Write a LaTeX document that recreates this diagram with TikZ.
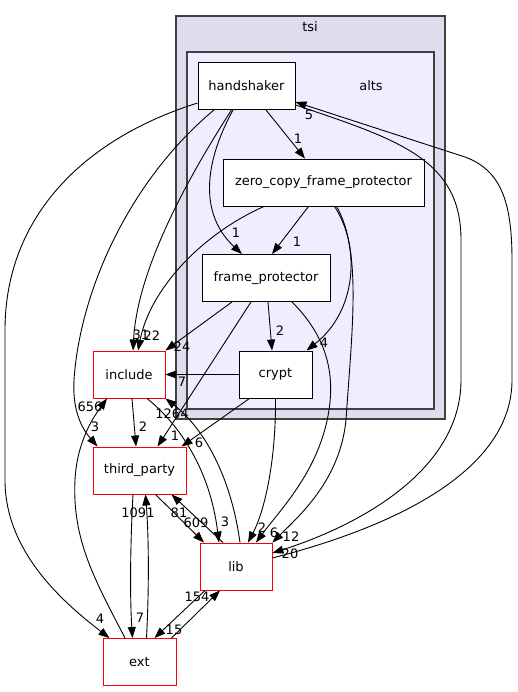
\documentclass[tikz,border=0pt]{standalone}
\usepackage{fontspec}
\setmainfont{DejaVu Sans}
\usepackage{tikz}
\usetikzlibrary{arrows.meta, positioning}
\usepackage{xcolor}
\definecolor{tsifill}{HTML}{DDDDEE}
\definecolor{altsfill}{HTML}{EEEEFF}
\definecolor{clusterline}{HTML}{404040}
\tikzset{%
	every dir/.style={
		rectangle,
		draw=black,
		fill=white,
		line width=0.9pt,
		minimum height=47pt,
		inner sep=0pt,
		font=\fontsize{13}{15}\selectfont
	},
	outer dir/.style={
		every dir,
		draw=red
	},
	dep/.style={
		-{Triangle[length=11pt,width=8pt]},
		line width=0.9pt
	},
	count/.style={
		inner sep=0pt,
		font=\fontsize{13}{15}\selectfont
	},
}

\begin{document}
\begin{tikzpicture}[x=1pt,y=-1pt]
			\useasboundingbox (0,0) rectangle (517,692);
			
			% Draw the two clusters
			\draw[fill=tsifill, draw=clusterline, line width=1.5pt] (176,16) rectangle (445,419);
			\node[count] (tsilabel) at (310,27) {tsi};
			\draw[fill=altsfill, draw=clusterline, line width=1.2pt] (187,52) rectangle (434,409);
			\node[count] (altslabel) at (371,86) {alts};
			
			% Draw the directories inside alts
			\node[every dir, minimum width=97pt] (handshaker) at (246.5,86) {handshaker};
			\node[every dir, minimum width=201pt] (zcfp) at (323.5,182.5) {zero\_copy\_frame\_protector};
			\node[every dir, minimum width=128pt] (fp) at (266,278) {frame\_protector};
			\node[every dir, minimum width=73pt] (crypt) at (275.5,374.5) {crypt};
			
			% Draw the directories outside
			\node[outer dir, minimum width=72pt] (include) at (129,374.5) {include};
			\node[outer dir, minimum width=93pt] (third_party) at (139.5,470.5) {third\_party};
			\node[outer dir, minimum width=72pt] (lib) at (236,566.5) {lib};
			\node[outer dir, minimum width=73pt] (ext) at (139.5,662) {ext};
			
			% Draw the arrows from handshaker
			\draw[dep] ([xshift=19.5pt]handshaker.south) -- ([xshift=-18.5pt]zcfp.north);
			\draw[dep] ([xshift=-13.5pt]handshaker.south) .. controls (203,165) and (200,215) .. ([xshift=-24pt]fp.north);
			\draw[dep] ([xshift=-15pt]handshaker.south) .. controls (180,190) and (137,275) .. ([xshift=4pt]include.north);
			\draw[dep] ([xshift=-32.5pt]handshaker.south) .. controls (130,180) and (80,290) .. (74,380) .. controls (72,415) and (85,432) .. ([xshift=-42pt]third_party.north);
			\draw[dep] ([yshift=-17pt]handshaker.west) .. controls (80,140) and (5,220) .. (5,330) -- (5,480) .. controls (5,550) and (60,600) .. ([xshift=-30pt]ext.north);
			\draw[dep] ([yshift=-19pt]handshaker.east) .. controls (400,140) and (461,160) .. (461,240) -- (461,380) .. controls (461,470) and (360,525) .. ([yshift=13.5pt]lib.east);
			
			% Draw the arrows from zero_copy_frame_protector
			\draw[dep] ([xshift=-59.5pt]zcfp.south) .. controls (200,235) and (150,290) .. ([xshift=9pt]include.north);
			\draw[dep] ([xshift=-15pt]zcfp.south) -- ([xshift=6pt]fp.north);
			\draw[dep] ([xshift=11pt]zcfp.south) .. controls (360,245) and (358,310) .. ([xshift=31pt]crypt.north);
			\draw[dep] ([xshift=13pt]zcfp.south) .. controls (362,250) and (352,330) .. (346,420) .. controls (340,480) and (300,515) .. (lib.north east);
			
			% Draw the arrows from frame_protector
			\draw[dep] ([xshift=-34pt]fp.south) -- (include.north east);
			\draw[dep] ([xshift=2pt]fp.south) -- ([xshift=-3.5pt]crypt.north);
			\draw[dep] ([xshift=-15pt]fp.south) -- ([xshift=18pt]third_party.north);
			\draw[dep] ([xshift=26pt]fp.south) .. controls (325,335) and (335,370) .. (329,410) .. controls (320,470) and (280,510) .. ([xshift=20pt]lib.north);
			
			% Draw the arrows from crypt
			\draw[dep] (crypt.west) -- (include.east);
			\draw[dep] ([xshift=-26pt]crypt.south) -- ([xshift=42pt]third_party.north);
			\draw[dep] (crypt.south) .. controls (276,460) and (265,510) .. ([xshift=12pt]lib.north);
			
			% Draw the arrows between the outer directories
			\draw[dep] ([xshift=3pt]include.south) -- ([xshift=-3.5pt]third_party.north);
			\draw[dep] ([xshift=18pt]include.south) .. controls (180,425) and (210,470) .. ([xshift=-17pt]lib.north);
			\draw[dep] ([xshift=4pt]lib.north) .. controls (230,470) and (200,425) .. (include.south east);
			\draw[dep] ([xshift=16pt]third_party.south) -- ([xshift=-32pt]lib.north);
			\draw[dep] ([xshift=-13pt]lib.north) -- ([xshift=32pt]third_party.south);
			\draw[dep] ([xshift=-6.5pt]third_party.south) .. controls (130,550) and (130,600) .. ([xshift=-7pt]ext.north);
			\draw[dep] ([xshift=7pt]ext.north) .. controls (149,590) and (149,540) .. ([xshift=6pt]third_party.south);
			\draw[dep] ([xshift=-31pt]lib.south) -- ([xshift=15pt]ext.north);
			\draw[dep] ([xshift=32pt]ext.north) -- ([xshift=-16pt]lib.south);
			\draw[dep] ([xshift=-14.5pt]ext.north) .. controls (95,580) and (72,540) .. (75,480) .. controls (77,440) and (95,415) .. ([xshift=-22pt]include.south);
			\draw[dep] ([yshift=8.5pt]lib.east) .. controls (420,520) and (512,460) .. (512,380) -- (512,260) .. controls (512,200) and (500,170) .. (465,157) -- ([yshift=-16pt]handshaker.east);
			
			% Draw the counts
			\node[count] (c1) at (298,139) {1};
			\node[count] (c2) at (236,233) {1};
			\node[count] (c3) at (141,335) {31};
			\node[count] (c4) at (152,336) {22};
			\node[count] (c5) at (182,347) {24};
			\node[count] (c6) at (182,382) {7};
			\node[count] (c7) at (280,331) {2};
			\node[count] (c8) at (324,343) {4};
			\node[count] (c9) at (297,242) {1};
			\node[count] (c10) at (175,436) {1};
			\node[count] (c11) at (199,443) {6};
			\node[count] (c12) at (143,427) {2};
			\node[count] (c13) at (95,427) {3};
			\node[count] (c14) at (90,407) {656};
			\node[count] (c15) at (172,414) {1264};
			\node[count] (c16) at (225,522) {3};
			\node[count] (c17) at (196,523) {609};
			\node[count] (c18) at (179,513) {81};
			\node[count] (c19) at (138,513) {1091};
			\node[count] (c20) at (140,618) {7};
			\node[count] (c21) at (100,619) {4};
			\node[count] (c22) at (174,630) {15};
			\node[count] (c23) at (197,597) {154};
			\node[count] (c24) at (262,528) {2};
			\node[count] (c25) at (274,533) {6};
			\node[count] (c26) at (291,537) {12};
			\node[count] (c27) at (290,554) {20};
			\node[count] (c28) at (309,115) {5};

		\end{tikzpicture}
\end{document}
